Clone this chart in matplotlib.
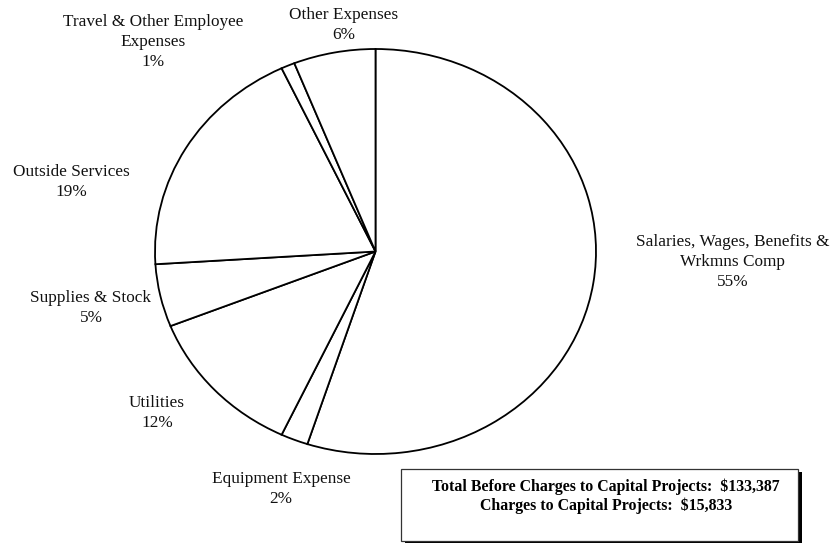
import matplotlib
matplotlib.use("Agg")
import matplotlib.pyplot as plt
from matplotlib.patches import Rectangle

# Expense categories, clockwise from 12 o'clock
categories = [
    "Salaries, Wages, Benefits &\nWrkmns Comp",
    "Equipment Expense",
    "Utilities",
    "Supplies & Stock",
    "Outside Services",
    "Travel & Other Employee\nExpenses",
    "Other Expenses",
]
shares = [55, 2, 12, 5, 19, 1, 6]

total_before = "$133,387"
capital_charges = "$15,833"

# label anchor points in figure pixels (x, y from top)
label_pos = [(733, 262), (281, 489), (157, 413), (91, 308),
             (71, 182), (153, 42), (344, 25)]

W, H = 834, 543
fig = plt.figure(figsize=(W / 100, H / 100), dpi=100)
fig.patch.set_facecolor("white")
plt.rcParams["font.family"] = ["Liberation Serif", "DejaVu Serif"]

# pie area: left 155, right 596, top 49, bottom 454 (pixels)
ax = fig.add_axes([155 / W, (H - 454) / H, 441 / W, 405 / H])
ax.pie(shares, startangle=90, counterclock=False, colors=["white"] * len(shares),
       wedgeprops=dict(edgecolor="black", linewidth=1.3))
ax.set_aspect("auto")
ax.set_xlim(-1.0, 1.0)
ax.set_ylim(-1.0, 1.0)
ax.axis("off")

for name, val, (px, py) in zip(categories, shares, label_pos):
    fig.text(px / W, 1 - py / H, f"{name}\n{val}%", ha="center", va="center",
             fontsize=12.4, linespacing=1.32, color="#111111")

# summary box with drop shadow
bx0, bx1, by0, by1 = 401, 798, 469, 541
fig.patches.append(Rectangle(((bx0 + 4) / W, 1 - (by1 + 3) / H), (bx1 - bx0) / W,
                             (by1 - by0) / H, transform=fig.transFigure,
                             facecolor="black", edgecolor="none", zorder=1))
fig.patches.append(Rectangle((bx0 / W, 1 - by1 / H), (bx1 - bx0) / W,
                             (by1 - by0) / H, transform=fig.transFigure,
                             facecolor="white", edgecolor="#333333", linewidth=0.9,
                             zorder=2))
fig.text(606 / W, 1 - 496 / H,
         f"Total Before Charges to Capital Projects:  {total_before}\n"
         f"Charges to Capital Projects:  {capital_charges}",
         ha="center", va="center", fontsize=11.4, fontweight="bold",
         linespacing=1.17, zorder=3)

fig.savefig("out.png", dpi=100, facecolor="white")
